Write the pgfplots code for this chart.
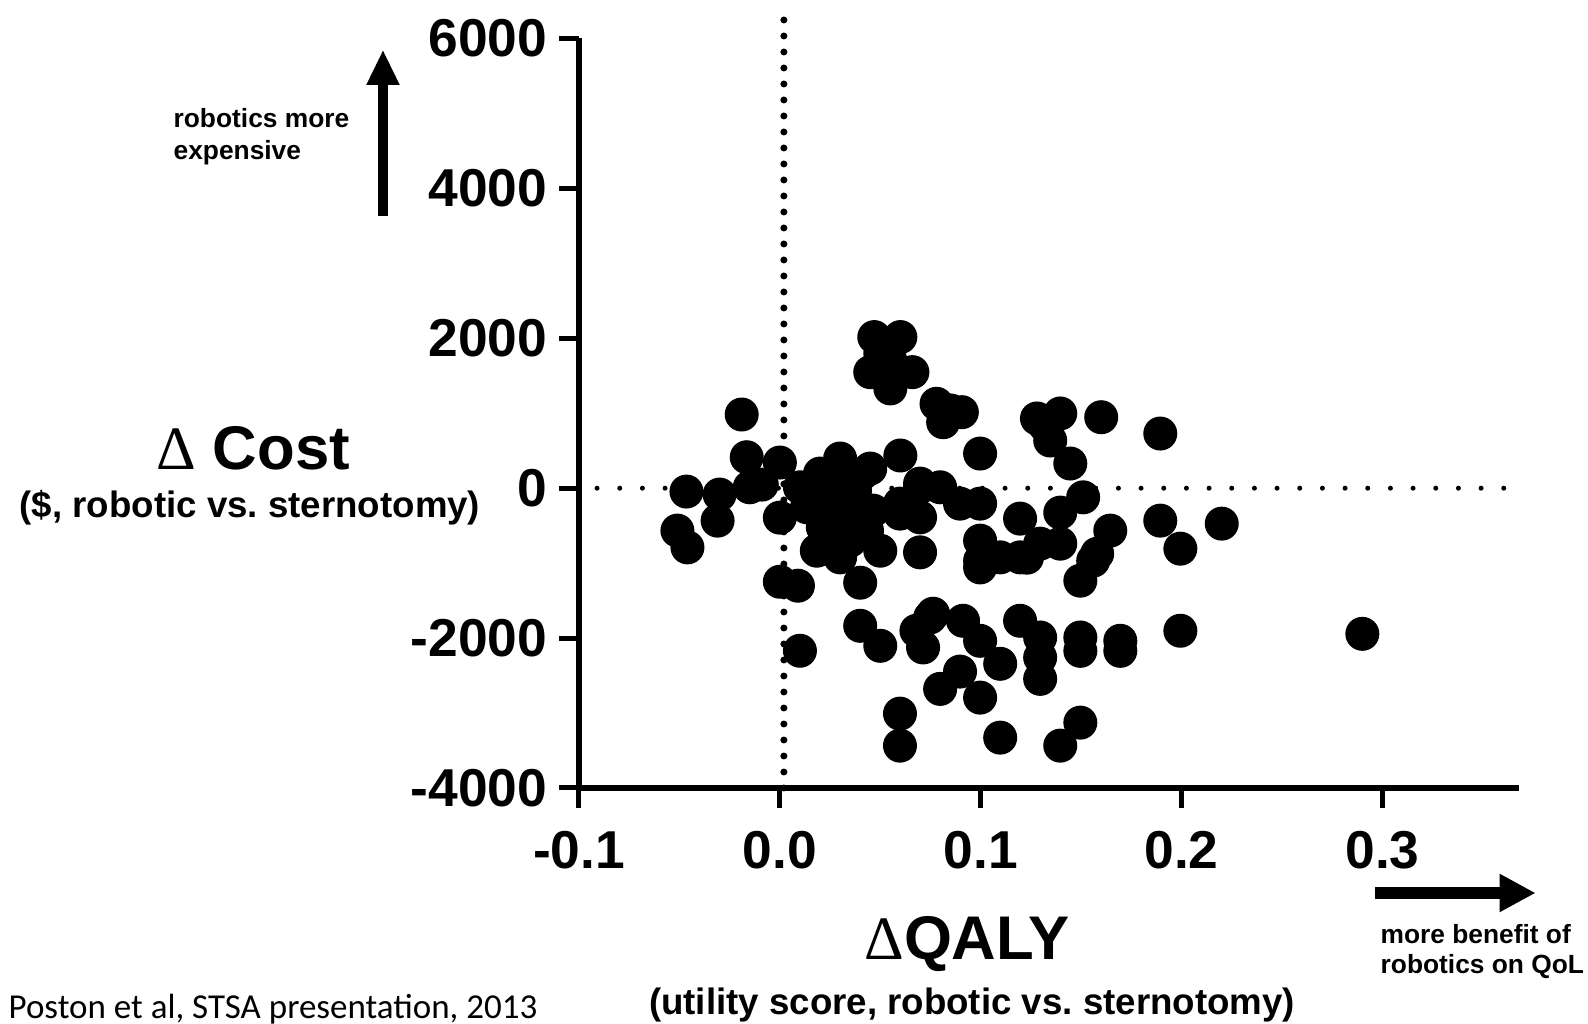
\documentclass[border=0pt]{standalone}
\usepackage{fontspec}
\setmainfont{Liberation Sans}
\newfontfamily\carlito{Carlito}
\newfontfamily\deltafont{Liberation Serif}
\usepackage{pgfplots}
\pgfplotsset{compat=1.18}
\usetikzlibrary{arrows.meta}

\begin{document}
\begin{tikzpicture}
\begin{axis}[
  at={(0,0)}, anchor=south west,
  scale only axis, width=282pt, height=224.85pt,
  xmin=-0.1, xmax=0.368, ymin=-4000, ymax=6000,
  axis lines=left, axis line style={-, line width=1.8pt},
  xtick={-0.1,0,0.1,0.2,0.3}, xticklabels={-0.1,0.0,0.1,0.2,0.3},
  ytick={-4000,-2000,0,2000,4000,6000},
  yticklabels={-4000,-2000,0,2000,4000,6000},
  tick align=outside, major tick length=6pt,
  tick style={line width=1.5pt, black},
  tick label style={font=\fontsize{16}{16}\selectfont\bfseries},
  xticklabel style={yshift=-3.5pt},
  clip=false,
]
% reference lines
\addplot[black, line width=2.1pt, line cap=round, dash pattern=on 0pt off 4.8pt]
  coordinates {(0.002,-4000)(0.002,6380)};
\addplot[black, line width=1.5pt, line cap=round, dash pattern=on 0pt off 6.8pt]
  coordinates {(-0.091,0)(0.3624,0)};
% simulations
\addplot[only marks, mark=*, mark size=4.9pt, mark options={fill=black, draw=black}]
coordinates {
(-0.019,983)(-0.0165,413)(0.000,342)(-0.0465,-45)(-0.030,-85)(-0.015,12)
(-0.009,48)(-0.051,-566)(-0.046,-790)(-0.031,-433)(0.000,-393)(0.000,-1248)
(0.009,-1301)(0.010,-2169)(0.040,-1261)(0.030,396)(0.045,262)
(0.047,2016)(0.060,2016)(0.045,1548)(0.066,1548)(0.055,1331)(0.055,1705)(0.050,1800)
(0.078,1126)(0.0906,1014)(0.0813,880)(0.085,1037)(0.060,436)(0.0997,462)
(0.128,930)(0.1396,997)(0.1346,636)(0.1446,329)(0.132,836)(0.160,947)(0.1894,729)
(0.151,-122)(0.1396,-326)(0.1196,-406)(0.1645,-566)(0.158,-874)(0.1496,-1234)
(0.1894,-433)(0.1994,-807)(0.220,-473)(0.1396,-740)(0.123,-927)
(0.0698,-856)(0.050,-834)(0.0997,-967)(0.1097,-923)(0.1196,-923)(0.156,-967)
(0.1296,-740)(0.0698,12)(0.0798,12)(0.0897,-206)(0.0997,-206)(0.0598,-339)
(0.0698,-389)(0.0997,-700)(0.0598,-206)(0.0698,61)(0.0997,-1057)
(0.0748,-1725)(0.068,-1902)(0.0713,-2125)(0.0912,-1769)(0.0997,-2036)
(0.1196,-1769)(0.1296,-1992)(0.1296,-2259)(0.1097,-2343)(0.1296,-2544)
(0.0897,-2447)(0.0798,-2678)(0.0997,-2794)(0.1496,-1992)(0.1496,-2170)
(0.1695,-2036)(0.1695,-2170)(0.1994,-1902)(0.290,-1943)
(0.0598,-3008)(0.0598,-3435)(0.1097,-3328)(0.1496,-3128)(0.1396,-3435)
(0.040,-1836)(0.050,-2103)(0.0763,-1675)
(0.010,12)(0.020,195)(0.030,102)(0.041,195)(0.0135,-255)(0.025,-206)
(0.0364,-206)(0.0464,-299)(0.0214,-522)(0.0334,-522)(0.0434,-566)
(0.0184,-834)(0.030,-923)(0.0274,-32)(0.0374,-32)(0.0174,-99)
(0.035,-700)(0.025,-700)
};
\end{axis}

% annotations
\node[font=\fontsize{18.5}{20}\selectfont\bfseries] at (-97.8pt,102pt)
  {{\deltafont\mdseries\symbol{"0394}} Cost};
\node[font=\fontsize{11}{13}\selectfont\bfseries] at (-98.7pt,84pt)
  {(\$, robotic vs.\ sternotomy)};
\node[font=\fontsize{18.5}{20}\selectfont\bfseries] at (116.4pt,-46.8pt)
  {{\deltafont\mdseries\symbol{"0394}}QALY};
\node[font=\fontsize{11}{13}\selectfont\bfseries] at (117.9pt,-65.1pt)
  {(utility score, robotic vs.\ sternotomy)};
\draw[line width=3pt, -{Triangle[width=9.2pt,length=10.6pt]}]
  (-58.8pt,171.6pt) -- (-58.8pt,221.5pt);
\draw[line width=3.7pt, -{Triangle[width=10.7pt,length=10.8pt]}]
  (238.8pt,-31.5pt) -- (287pt,-31.5pt);
\node[anchor=west, align=left, inner sep=0pt,
  font=\fontsize{7.9}{9.75}\selectfont\bfseries] at (-121.8pt,195.4pt)
  {robotics more\\expensive};
\node[anchor=west, align=left, inner sep=0pt,
  font=\fontsize{7.9}{9}\selectfont\bfseries] at (240.3pt,-49.2pt)
  {more benefit of\\robotics on QoL};
\node[anchor=west, inner sep=0pt, font=\carlito\fontsize{10.5}{12}\selectfont]
  at (-171.3pt,-66.5pt) {Poston et al, STSA presentation, 2013};

\pgfresetboundingbox
\path (-173.7pt,-70.8pt) rectangle (302.7pt,236.4pt);
\end{tikzpicture}
\end{document}
